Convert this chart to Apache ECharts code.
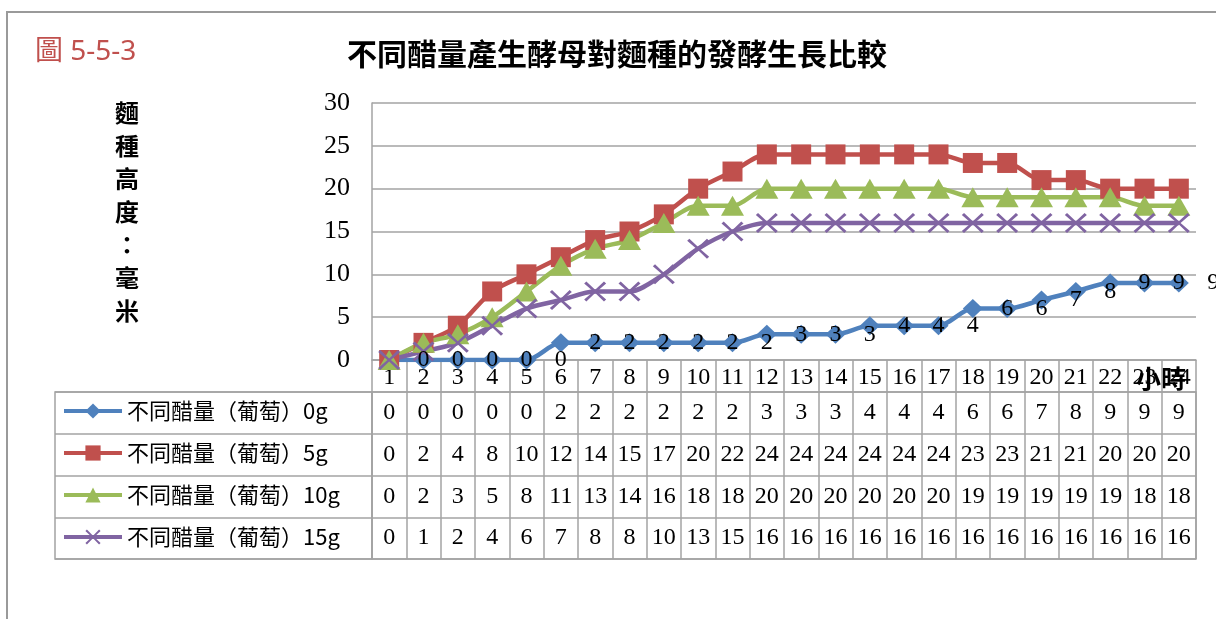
<!DOCTYPE html>
<html>
<head>
<meta charset="utf-8">
<script src="https://cdn.jsdelivr.net/npm/echarts@6/dist/echarts.min.js"></script>
<style>
  html, body { margin: 0; padding: 0; background: #ffffff; }
  #chart { width: 1216px; height: 619px; }
</style>
</head>
<body>
<div id="chart"></div>
<script>
// Hours of fermentation (x categories, also the header row of the data table)
const hours = ['1','2','3','4','5','6','7','8','9','10','11','12',
               '13','14','15','16','17','18','19','20','21','22','23','24'];

// Series names
const seriesNames = [
  '不同醋量（葡萄）0g',
  '不同醋量（葡萄）5g',
  '不同醋量（葡萄）10g',
  '不同醋量（葡萄）15g'
];

// Starter height (mm) for each amount of grape vinegar
const vinegar0g  = [0,0,0,0,0,2,2,2,2,2,2,3,3,3,4,4,4,6,6,7,8,9,9,9];
const vinegar5g  = [0,2,4,8,10,12,14,15,17,20,22,24,24,24,24,24,24,23,23,21,21,20,20,20];
const vinegar10g = [0,2,3,5,8,11,13,14,16,18,18,20,20,20,20,20,20,19,19,19,19,19,18,18];
const vinegar15g = [0,1,2,4,6,7,8,8,10,13,15,16,16,16,16,16,16,16,16,16,16,16,16,16];

// Y axis scale
const yMin = 0, yMax = 30, yStep = 5;

const figureLabel = '圖 5-5-3';
const chartTitle = '不同醋量產生酵母對麵種的發酵生長比較';
const yAxisTitle = '麵種高度：毫米';
const xAxisTitle = '小時';

const allSeries = [vinegar0g, vinegar5g, vinegar10g, vinegar15g];

// Layout
const plotLeft = 372, plotTop = 103, plotWidth = 824, plotHeight = 257;
const headerHeight = 32;
const tableTop = plotTop + plotHeight + headerHeight;
const tableHeight = 167;
const legendColLeft = 55;
const cellWidth = plotWidth / hours.length;

const gridGray = '#a3a3a3';
const serif = '"Liberation Serif", "DejaVu Serif", serif';
const cjk = '"Noto Sans CJK TC", "Noto Sans CJK SC", sans-serif';

const colors = ['#4F81BD', '#C0504D', '#9BBB59', '#8064A2'];
const symbols = ['diamond', 'rect', 'triangle',
  'path://M0,1L1,0L5,4.2L9,0L10,1L5.8,5L10,9L9,10L5,5.8L1,10L0,9L4.2,5Z'];
const symbolSizes = [[20, 19], [20, 20], [23, 20], [22, 20]];

// Data table cells: [column, row, value]
const tableCells = [];
allSeries.forEach((vals, r) => vals.forEach((v, c) => tableCells.push([c, r, v])));

const lineSeries = allSeries.map((vals, i) => ({
  name: seriesNames[i],
  type: 'line',
  xAxisIndex: 0,
  yAxisIndex: 0,
  data: vals,
  smooth: 0.3,
  symbol: symbols[i],
  symbolSize: symbolSizes[i],
  lineStyle: { color: colors[i], width: 4.5 },
  itemStyle: { color: colors[i] },
  label: i === 0 ? {
    show: true,
    position: 'inside',
    offset: [cellWidth, 0],
    formatter: '{c}',
    fontSize: 24,
    fontFamily: serif,
    color: '#000'
  } : { show: false },
  emphasis: { disabled: true },
  animation: false
}));

const chart = echarts.init(document.getElementById('chart'), null, { renderer: 'canvas' });

chart.setOption({
  backgroundColor: '#ffffff',
  animation: false,
  title: [
    {
      text: figureLabel,
      left: 30, top: 33,
      textStyle: { color: '#C0504D', fontSize: 28, fontWeight: 'normal',
                   fontFamily: '"Noto Sans", "Noto Sans CJK TC", sans-serif' }
    },
    {
      text: chartTitle,
      left: 342, top: 34,
      textStyle: { color: '#000', fontSize: 30, fontWeight: 'bold', fontFamily: cjk }
    },
    {
      text: yAxisTitle.split('').join('\n'),
      left: 110, top: 91,
      textStyle: { color: '#000', fontSize: 24, fontWeight: 'bold', lineHeight: 33, fontFamily: cjk }
    }
  ],
  graphic: [{
    type: 'rect',
    silent: true,
    z: -10,
    shape: { x: 7, y: 12, width: 1400, height: 800 },
    style: { fill: 'none', stroke: '#9a9a9a', lineWidth: 2 }
  }],
  legend: {
    data: seriesNames,
    orient: 'vertical',
    left: 62,
    top: tableTop + 8,
    padding: 0,
    itemWidth: 58,
    itemHeight: 19,
    itemGap: 20,
    selectedMode: false,
    lineStyle: { width: 4 },
    textStyle: { color: '#000', fontSize: 22, lineHeight: 22, fontFamily: cjk }
  },
  grid: [
    { left: plotLeft, top: plotTop, width: plotWidth, height: plotHeight,
      containLabel: false, outerBoundsMode: 'none' },
    { left: plotLeft, top: tableTop, width: plotWidth, height: tableHeight,
      containLabel: false, outerBoundsMode: 'none',
      show: true, borderColor: gridGray, borderWidth: 1.5 },
    { left: legendColLeft, top: tableTop, width: plotLeft - legendColLeft, height: tableHeight,
      containLabel: false, outerBoundsMode: 'none',
      show: true, borderColor: gridGray, borderWidth: 1.5 }
  ],
  xAxis: [
    {
      gridIndex: 0,
      type: 'category',
      data: hours,
      boundaryGap: true,
      axisLine: { show: true, lineStyle: { color: gridGray, width: 1.5 } },
      axisTick: { show: true, interval: 0, length: headerHeight, lineStyle: { color: gridGray, width: 1.5 } },
      axisLabel: { interval: 0, margin: 6, fontSize: 24, fontFamily: serif, color: '#000' },
      splitLine: { show: false },
      name: xAxisTitle,
      nameLocation: 'end',
      nameGap: -60,
      nameMoveOverlap: false,
      nameTextStyle: { color: '#000', fontSize: 25, fontWeight: 'bold', fontFamily: cjk,
                       verticalAlign: 'top', padding: [6, 0, 0, 0] }
    },
    {
      gridIndex: 1,
      type: 'category',
      data: hours,
      axisLine: { show: false },
      axisTick: { show: false },
      axisLabel: { show: false },
      splitLine: { show: true, interval: 0, lineStyle: { color: gridGray, width: 1.5 } }
    },
    {
      gridIndex: 2,
      type: 'value',
      min: 0, max: 1,
      show: false
    }
  ],
  yAxis: [
    {
      gridIndex: 0,
      type: 'value',
      min: yMin, max: yMax, interval: yStep,
      axisLine: { show: true, lineStyle: { color: gridGray, width: 1.5 } },
      axisTick: { show: false },
      axisLabel: { margin: 22, fontSize: 26, fontFamily: serif, color: '#000' },
      splitLine: { show: true, lineStyle: { color: gridGray, width: 1.5 } }
    },
    {
      gridIndex: 1,
      type: 'category',
      data: seriesNames,
      inverse: true,
      axisLine: { show: false },
      axisTick: { show: false },
      axisLabel: { show: false },
      splitLine: { show: true, interval: 0, lineStyle: { color: gridGray, width: 1.5 } }
    },
    {
      gridIndex: 2,
      type: 'category',
      data: seriesNames,
      inverse: true,
      axisLine: { show: false },
      axisTick: { show: false },
      axisLabel: { show: false },
      splitLine: { show: true, interval: 0, lineStyle: { color: gridGray, width: 1.5 } }
    }
  ],
  series: lineSeries.concat([{
    name: 'table',
    type: 'custom',
    xAxisIndex: 1,
    yAxisIndex: 1,
    data: tableCells,
    silent: true,
    renderItem: function (params, api) {
      const p = api.coord([api.value(0), api.value(1)]);
      return {
        type: 'text',
        style: {
          text: String(api.value(2)),
          x: p[0], y: p[1],
          align: 'center', verticalAlign: 'middle',
          fontSize: 24, fontFamily: serif, fill: '#000'
        }
      };
    }
  }])
});
</script>
</body>
</html>
